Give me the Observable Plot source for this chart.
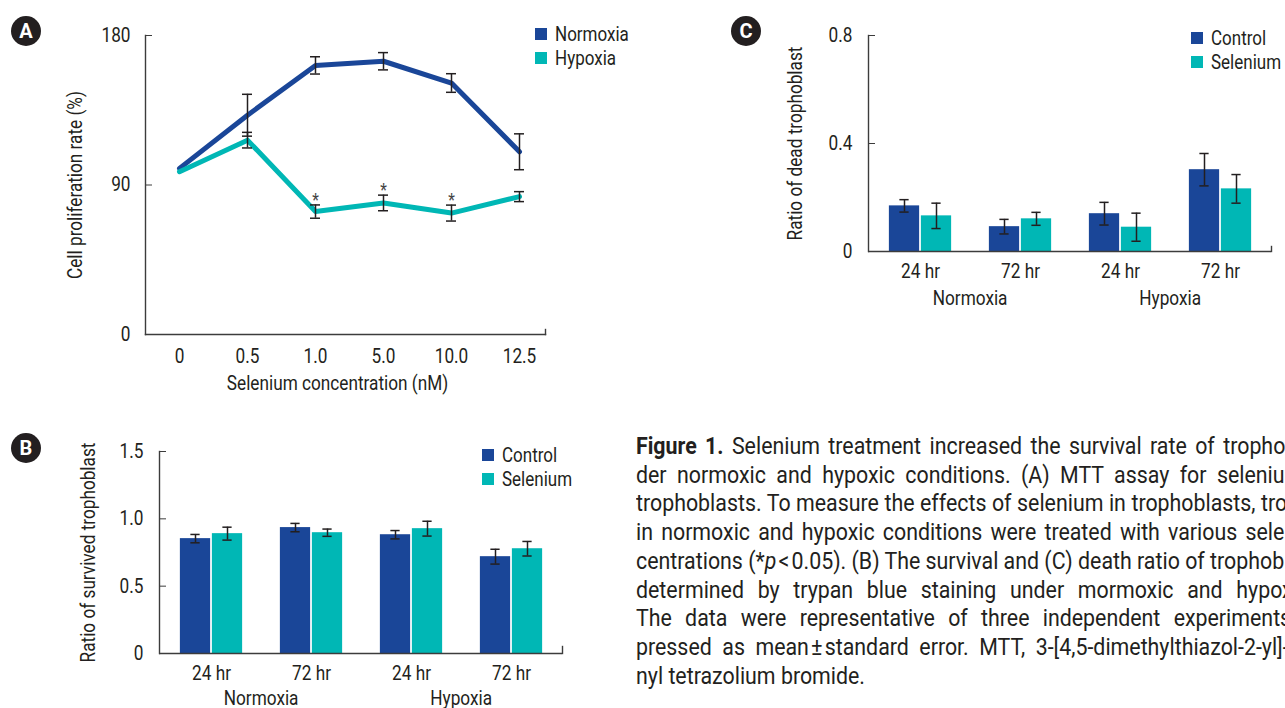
<!DOCTYPE html>
<html>
<head>
<meta charset="utf-8">
<script src="https://cdn.jsdelivr.net/npm/d3@7"></script>
<script src="https://cdn.jsdelivr.net/npm/@observablehq/plot@0.6"></script>
<style>
  html, body { margin: 0; padding: 0; background: #fff; }
  #page { position: relative; width: 1285px; height: 708px; overflow: hidden;
          font-family: Roboto, "Noto Sans", sans-serif; color: #231f20; }
  .panel { position: absolute; }
  .badge { position: absolute; width: 30px; height: 30px; border-radius: 50%; background: #231f20; color: #fff;
           font: bold 20px Roboto, "Liberation Sans", sans-serif; text-align: center; line-height: 30px; }
  .legend { position: absolute; font-size: 20px; width: max-content; }
  .legend .row { display: flex; align-items: center; height: 24px; white-space: nowrap; }
  .legend .sw { width: 12px; height: 12px; margin-right: 8px; flex: none; }
  .legend .tx { display: inline-block; flex: none; transform: scaleX(0.85); transform-origin: left center; }
  #caption { position: absolute; left: 636px; top: 433px; font-size: 23px; line-height: 28.7px;
             transform-origin: left top; }
  #caption .ln { white-space: nowrap; }
</style>
</head>
<body>
<div id="page"></div>
<script>
// ---------- data ----------
const concentrations = ["0", "0.5", "1.0", "5.0", "10.0", "12.5"];
const normoxiaRate   = [100, 132, 162, 164.5, 151.4, 110];
const normoxiaErr    = [0, 12.6, 5.2, 5.2, 5.6, 10.8];
const hypoxiaRate    = [98, 117, 74, 79.2, 73.1, 83];
const hypoxiaErr     = [0, 4.7, 4, 4.7, 4.8, 3];
const significant    = [false, false, true, true, true, false];

const conditions = ["Normoxia", "Normoxia", "Hypoxia", "Hypoxia"];
const times      = ["24 hr", "72 hr", "24 hr", "72 hr"];
const treatments = ["Control", "Selenium"];

const survivedControl     = [0.853, 0.935, 0.882, 0.719];
const survivedControlErr  = [0.031, 0.031, 0.031, 0.055];
const survivedSelenium    = [0.890, 0.897, 0.927, 0.778];
const survivedSeleniumErr = [0.048, 0.027, 0.055, 0.054];

const deadControl     = [0.169, 0.092, 0.140, 0.303];
const deadControlErr  = [0.023, 0.027, 0.042, 0.060];
const deadSelenium    = [0.132, 0.121, 0.090, 0.232];
const deadSeleniumErr = [0.047, 0.024, 0.052, 0.053];

const captionLines = [
  ["<b>Figure 1.</b> Selenium treatment increased the survival rate of trophoblasts un-", true],
  ["der normoxic and hypoxic conditions. (A) MTT assay for selenium treated", true],
  ["trophoblasts. To measure the effects of selenium in trophoblasts, trophoblasts", true],
  ["in normoxic and hypoxic conditions were treated with various selenium con-", true],
  ["centrations (*<i>p</i>&#8202;&lt;&#8202;0.05). (B) The survival and (C) death ratio of trophoblasts were", true],
  ["determined by trypan blue staining under mormoxic and hypoxic condi-", true],
  ["The data were representative of three independent experiments and ex-", true],
  ["pressed as mean&#8202;±&#8202;standard error. MTT, 3-[4,5-dimethylthiazol-2-yl]-2,5-diphe-", true],
  ["nyl tetrazolium bromide.", false]
];

// ---------- styles ----------
const BLUE = "#1a4698", TEAL = "#00b7b5", INK = "#231f20", AXIS = "#3c3c3c";
const FONT = 'Roboto, "Noto Sans", sans-serif';
const COND = 0.86;   // horizontal condensing of chart text
const page = document.getElementById("page");

function place(el, left, top) {
  el.style.position = "absolute"; el.style.left = left + "px"; el.style.top = top + "px";
  page.appendChild(el);
}
function condense(root, f) {
  root.querySelectorAll("text").forEach(t => {
    const L = t.getComputedTextLength();
    if (L > 0) { t.setAttribute("textLength", L * f); t.setAttribute("lengthAdjust", "spacingAndGlyphs"); }
  });
}
function badge(letter, cx, cy) {
  const b = document.createElement("div"); b.className = "badge"; b.textContent = letter;
  place(b, cx - 15, cy - 15);
}
function legend(names, colors, left, top) {
  const l = document.createElement("div"); l.className = "legend";
  names.forEach((n, i) => {
    const r = document.createElement("div"); r.className = "row";
    const s = document.createElement("span"); s.className = "sw"; s.style.background = colors[i];
    const t = document.createElement("span"); t.className = "tx"; t.textContent = n;
    r.appendChild(s); r.appendChild(t); l.appendChild(r);
  });
  place(l, left, top);
}
const fmtTick = d => d === 0 ? "0" : (Number.isInteger(d) && d > 1 ? String(d) : d3.format(".1f")(d));

// ---------- Panel A ----------
const lineData = concentrations.flatMap((c, i) => [
  {conc: c, series: "Normoxia", value: normoxiaRate[i], err: normoxiaErr[i], sig: false},
  {conc: c, series: "Hypoxia",  value: hypoxiaRate[i],  err: hypoxiaErr[i],  sig: significant[i]}
]);
const errA = lineData.filter(d => d.err > 0);
const A = {w: 640, h: 400, top: 35, right: 95, bottom: 66, left: 145, xOver: 8};
const aBand = (A.w - A.left - A.right + A.xOver) / concentrations.length;
const capW = 10;
const chartA = Plot.plot({
  width: A.w, height: A.h,
  marginTop: A.top, marginRight: A.right, marginBottom: A.bottom, marginLeft: A.left,
  style: {fontFamily: FONT, fontSize: "20px", color: INK, background: "transparent", overflow: "visible"},
  x: {type: "band", domain: concentrations, padding: 0, insetRight: -A.xOver},
  y: {domain: [0, 180]},
  color: {domain: ["Normoxia", "Hypoxia"], range: [BLUE, TEAL]},
  marks: [
    Plot.frame({anchor: "left", stroke: AXIS, strokeWidth: 1.4}),
    Plot.frame({anchor: "bottom", stroke: AXIS, strokeWidth: 1.4}),
    Plot.frame({anchor: "right", stroke: AXIS, strokeWidth: 1.4, insetTop: A.h - A.top - A.bottom - 5}),
    Plot.axisY({ticks: [0, 90, 180], tickSize: -7, tickPadding: 22, label: null, stroke: AXIS, tickFormat: fmtTick}),
    Plot.axisX({tickSize: 0, tickPadding: 14, label: null}),
    Plot.line(lineData, {x: "conc", y: "value", z: "series", stroke: "series", strokeWidth: 5}),
    Plot.ruleX(errA, {x: "conc", y1: d => d.value - d.err, y2: d => d.value + d.err, stroke: INK, strokeWidth: 1.5}),
    Plot.tickY(errA, {x: "conc", y: d => d.value - d.err, stroke: INK, strokeWidth: 1.5,
      insetLeft: (aBand - capW) / 2, insetRight: (aBand - capW) / 2}),
    Plot.tickY(errA, {x: "conc", y: d => d.value + d.err, stroke: INK, strokeWidth: 1.5,
      insetLeft: (aBand - capW) / 2, insetRight: (aBand - capW) / 2}),
    Plot.text(lineData.filter(d => d.sig), {x: "conc", y: d => d.value + d.err, text: () => "*",
      dy: -5, fontSize: 18, fill: "#444"}),
    Plot.text(["Selenium concentration (nM)"], {frameAnchor: "bottom", dy: 55, dx: -8, fill: INK}),
    Plot.text(["Cell proliferation rate (%)"], {frameAnchor: "left", textAnchor: "middle", rotate: -90, dx: -70, fill: INK})
  ]
});
const wrapA = document.createElement("div"); wrapA.className = "panel"; wrapA.appendChild(chartA);
place(wrapA, 0, 0);
condense(chartA, COND);

// ---------- Panels B and C ----------
const groups = conditions.map((c, i) => c + " " + times[i]);
function barPanel({control, controlErr, selenium, seleniumErr, yDomain, yTicks, yLabel, w, h, m, endTick}) {
  const data = groups.flatMap((g, i) => [
    {group: g, treatment: "Control",  value: control[i],  err: controlErr[i]},
    {group: g, treatment: "Selenium", value: selenium[i], err: seleniumErr[i]}
  ]);
  const bw = (w - m.left - m.right) / groups.length;
  const barW = 31, gap = 1, off = (barW + gap) / 2;
  const ins = {
    Control:  {l: bw / 2 - barW - gap / 2, r: bw / 2 + gap / 2, dx: -off},
    Selenium: {l: bw / 2 + gap / 2, r: bw / 2 - barW - gap / 2, dx: off}
  };
  const marks = [];
  for (const t of treatments) {
    const sub = data.filter(d => d.treatment === t);
    marks.push(Plot.barY(sub, {x: "group", y: "value", fill: "treatment", insetLeft: ins[t].l, insetRight: ins[t].r}));
  }
  marks.push(
    Plot.frame({anchor: "left", stroke: AXIS, strokeWidth: 1.4}),
    Plot.ruleY([0], {stroke: AXIS, strokeWidth: 1.4}),
    Plot.frame({anchor: "right", stroke: AXIS, strokeWidth: 1.4, insetTop: h - m.top - m.bottom - endTick})
  );
  for (const t of treatments) {
    const sub = data.filter(d => d.treatment === t);
    marks.push(
      Plot.ruleX(sub, {x: "group", y1: d => d.value - d.err, y2: d => d.value + d.err, dx: ins[t].dx, stroke: INK, strokeWidth: 1.5}),
      Plot.tickY(sub, {x: "group", y: d => d.value - d.err, stroke: INK, strokeWidth: 1.5,
        insetLeft: bw / 2 + ins[t].dx - capW / 2, insetRight: bw / 2 - ins[t].dx - capW / 2}),
      Plot.tickY(sub, {x: "group", y: d => d.value + d.err, stroke: INK, strokeWidth: 1.5,
        insetLeft: bw / 2 + ins[t].dx - capW / 2, insetRight: bw / 2 - ins[t].dx - capW / 2})
    );
  }
  marks.push(
    Plot.axisY({ticks: yTicks, tickSize: -7, tickPadding: 23, label: null, stroke: AXIS, tickFormat: fmtTick}),
    Plot.axisX({tickSize: 0, tickPadding: 12, label: null, tickFormat: d => times[groups.indexOf(d)]}),
    Plot.axisX({ticks: [groups[1], groups[3]], tickSize: 0, tickPadding: m.condPad, label: null, dx: -bw / 2,
      tickFormat: d => conditions[groups.indexOf(d)]}),
    Plot.text([yLabel], {frameAnchor: "left", textAnchor: "middle", rotate: -90, dx: m.yLabelDx, fill: INK})
  );
  return Plot.plot({
    width: w, height: h,
    marginTop: m.top, marginRight: m.right, marginBottom: m.bottom, marginLeft: m.left,
    style: {fontFamily: FONT, fontSize: "20px", color: INK, background: "transparent", overflow: "visible"},
    x: {type: "band", domain: groups, padding: 0},
    y: {domain: yDomain},
    color: {domain: treatments, range: [BLUE, TEAL]},
    marks
  });
}

const chartB = barPanel({
  control: survivedControl, controlErr: survivedControlErr,
  selenium: survivedSelenium, seleniumErr: survivedSeleniumErr,
  yDomain: [0, 1.5], yTicks: [0, 0.5, 1.0, 1.5], yLabel: "Ratio of survived trophoblast",
  w: 620, h: 288, m: {top: 31, right: 58, bottom: 55, left: 159, yLabelDx: -71, condPad: 37}, endTick: 7
});
const wrapB = document.createElement("div"); wrapB.className = "panel"; wrapB.appendChild(chartB);
place(wrapB, 0, 420);
condense(chartB, COND);

const chartC = barPanel({
  control: deadControl, controlErr: deadControlErr,
  selenium: deadSelenium, seleniumErr: deadSeleniumErr,
  yDomain: [0, 0.8], yTicks: [0, 0.4, 0.8], yLabel: "Ratio of dead trophoblast",
  w: 565, h: 320, m: {top: 35, right: 14, bottom: 69, left: 148, yLabelDx: -73, condPad: 39}, endTick: 5
});
const wrapC = document.createElement("div"); wrapC.className = "panel"; wrapC.appendChild(chartC);
place(wrapC, 720, 0);
condense(chartC, COND);

// ---------- badges and legends ----------
badge("A", 26, 31);
badge("B", 26, 448);
badge("C", 746, 31);
legend(["Normoxia", "Hypoxia"], [BLUE, TEAL], 535, 22);
legend(["Control", "Selenium"], [BLUE, TEAL], 482, 443);
legend(["Control", "Selenium"], [BLUE, TEAL], 1191, 26);

// ---------- caption ----------
const cap = document.createElement("div"); cap.id = "caption";
const COLW = 745;
captionLines.forEach(([html, justify]) => {
  const d = document.createElement("div"); d.className = "ln";
  const s = document.createElement("span"); s.innerHTML = html; d.appendChild(s);
  d.dataset.j = justify ? "1" : "0";
  cap.appendChild(d);
});
page.appendChild(cap);
const spans = Array.from(cap.querySelectorAll(".ln > span"));
const widths = spans.map(s => s.getBoundingClientRect().width);
const scale = Math.min(1, COLW / Math.max(...widths));
cap.style.transform = `scaleX(${scale})`;
spans.forEach((s, i) => {
  if (s.parentNode.dataset.j !== "1") return;
  const spaces = (s.textContent.match(/ /g) || []).length;
  if (spaces > 0) s.style.wordSpacing = ((COLW / scale - widths[i]) / spaces) + "px";
});
</script>
</body>
</html>
